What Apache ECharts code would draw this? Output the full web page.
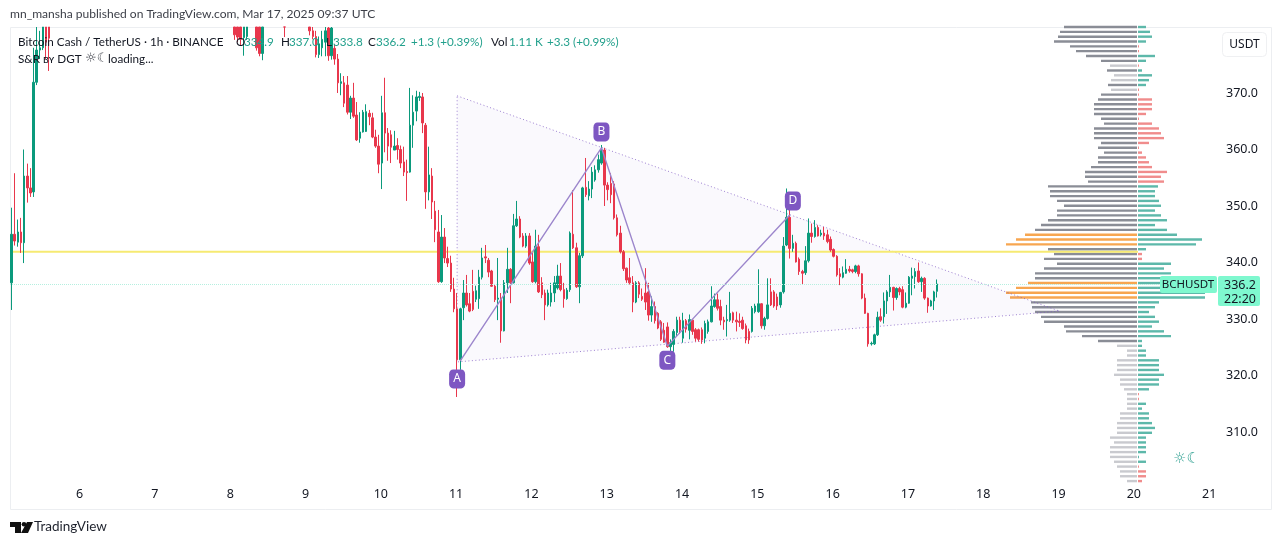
<!DOCTYPE html>
<html>
<head>
<meta charset="utf-8">
<title>BCHUSDT</title>
<script src="https://cdn.jsdelivr.net/npm/echarts@6/dist/echarts.min.js"></script>
<style>
html, body { margin: 0; padding: 0; background: #fff; }
#main { width: 1281px; height: 545px; }
</style>
</head>
<body>
<div id="main"></div>
<script>
// day labels of the time axis, one every 24 hourly candles
var dayLabels = ['6','7','8','9','10','11','12','13','14','15','16','17','18','19','20','21'];
var yTicks = [310,320,330,340,350,360,370];
var lastPrice = 336.2;
var keyLevel = 341.9;
var yMin = 301.33;
var yMax = 381.68;

// hourly candles [open, close, low, high], null = candle is above the visible range
var candles = [
[336.4,345,331.6,349.7],[345,343.8,343,355.8],[343.6,345.4,342.8,347.6],[345.4,343.5,341.7,347.9],
[343.5,355.3,339.9,360],[355.3,353.2,350.6,357.5],[353.2,352.3,351.6,356.7],[352.5,371.9,351.6,378],
[371.9,377.6,371.4,383],[377.6,378,376,381],[378,383,377.6,384],[383,379,376,384],[384,379.7,373.9,385],
null,null,null,null,null,null,null,null,null,null,null,null,null,null,null,null,null,null,null,null,null,null,null,null,null,null,null,null,null,null,null,null,null,null,null,null,null,null,null,null,null,null,null,null,null,null,null,null,null,null,null,null,null,null,null,null,null,null,
[384,380.3,379.4,385],[384,379.9,379,385],[384,379.5,378.5,385],[379.8,383,376.6,384],[380,383,379.4,384],
null,null,[384,378,377.5,385],[383,377,376.5,385],[377,383,375.8,384],
null,null,null,null,null,null,[384,383,379.9,386],null,null,null,null,null,null,null,
[383,381,380.2,385],[381,380,379.5,383],[380,376.8,376.3,381],[376.8,378.7,376.2,380],[378,379.5,376.5,381],
[379,381,376.5,382],[381.5,376.6,375.7,383],[376.6,381.5,375.9,383],[377.9,376,375,378.6],[376,371.8,370,376.9],
[371.7,372,369.6,373.5],[371.8,368.2,367.5,373],[371.4,366.6,366.2,373],[366.6,369.1,365.4,369.5],[369.1,365.9,365.6,371.8],
[366.1,361.7,361.5,368.4],[362,363.1,361.2,366.6],[363.1,366.6,363,367],[363.2,366.7,363.1,368],[366.4,365.8,364.3,367],
[365.6,362.2,362,366.5],[362.2,360.6,360.3,363.5],[360.6,357.4,355.8,362.6],[357.6,366.5,353,369.5],[366.5,362.9,359.5,372.7],
[362.9,360.6,358,363.8],[362.6,360.4,357.6,363.4],[359.9,360.6,359.9,363.3],[360.7,360,358.2,362],[360,357.6,356.7,360.7],
[357.8,356,355.3,360.5],[356.1,355.9,350.9,358.2],[356,364.3,355.9,370.9],[364.3,366.6,360.3,369.6],[366.8,369.3,365,370.4],
[369.2,369.4,368.6,370.2],[369.3,364.7,362.9,370],[364.3,352.5,349.5,364.7],[352.5,355.5,351,360.5],[355.3,350.7,347.7,356.7],
[349.1,345.8,343.6,350.9],[345.4,336.6,336.4,349.3],[336.6,344.5,336.4,348.4],[344.5,340.8,339.9,346.1],[340.7,339.9,339.2,342.8],
[339.9,335.3,334.8,341.2],[335.3,331.8,331.2,337.3],[331.8,322.8,316.2,334.6],[322.8,331.8,321,332],[332,334.6,329.8,336.9],
[334.6,332.5,332.2,337.8],[332.7,331.4,331.2,334.6],[334.9,331.7,331.4,338.7],[333.5,335,333,335.9],[333.6,337.4,331.8,338.7],
[337.4,340.8,337,342.6],[341,340.8,339.9,343.1],[340.4,338.3,337.4,340.8],[338.5,335.8,335.7,338.7],[335.8,333.4,333,336.2],
[333.5,333.7,329.8,340.8],[333.7,327.9,325.8,334.6],[327.9,336.4,327.8,336.9],[336.4,338.8,334.6,342.6],[338.8,336.4,332.8,339],
[336.4,346.5,336.3,348.6],[346.5,347.7,346.3,350.9],[347.7,344.5,344.3,348.2],[344.7,342.9,342.7,345.2],[342.9,344.7,342.6,345.2],
[344.7,339.9,339.6,345.2],[340.1,336.6,336.4,341.7],[336.6,342.9,336.3,345.8],[342.8,334.8,334.6,344.9],[336.4,334.3,333.7,337.4],
[334.6,332.5,329.8,335.2],[332.5,334.6,332.2,335.2],[333,334.6,332.2,336.4],[334.6,336.4,333,337.6],[335.5,337.6,335.2,339.6],
[337.6,335.2,334.9,339.9],[335.2,333.6,332,336.4],[333.6,335.1,333.4,335.5],[335.2,345.2,334.8,345.5],[345,342.6,342.4,352.8],
[342.6,335.7,335.5,343.5],[335.7,341.2,332.8,341.7],[341.2,353.2,340.8,353.4],[353.3,352,351.6,358.5],[351.8,353,351,354.4],
[353,356,351.4,356.9],[354.6,356.4,354.3,357.2],[356.4,358.2,355.9,359.1],[357.6,359.9,357.3,360.8],[359.9,353.7,350,360.3],
[353.7,352.9,351,354.2],[354,352,350.5,355.8],[353.9,347.9,347.6,354.4],[347.9,344.9,344.6,348.5],[345.2,341.9,341.6,346.5],
[341.9,338.9,338.5,342.2],[339,336.9,336.4,339.1],[337.3,336.4,336.1,340.8],[336.4,333,331.2,337.6],[333,336.4,332.8,336.7],
[336.4,334.4,333.7,336.7],[334,333.5,333.2,335.4],[334.6,333,331.6,339],[334.8,330.7,329.7,336.4],[330.7,332.2,329.5,334],
[332.2,329.7,329.2,333.1],[331,328.4,328.2,331.2],[329.5,326.4,326.1,329.8],[328,325.9,325.8,329.3],[328.6,325.1,324.9,329.4],
[325.1,325.8,324.2,326.4],[325.5,327.8,324.2,328.2],[327.6,329.8,327,330.4],[329.8,328,327.4,330.4],[326.6,329.7,325.8,331.1],
[329.7,328.2,327.6,330],[328,329.9,326.4,330.8],
[329.8,327.8,327.2,329.9],[328.1,326.6,326,328.4],[328.1,326.4,326,328.3],[328.1,326.3,325.6,328.5],[326.6,329.2,325.7,329.7],
[327.8,329.5,327.4,329.9],[329.5,332.3,329.4,335.8],[332.2,333.4,332,334.5],[333.4,331.9,331.5,334.5],[332.2,329.8,328.9,333.4],
[329.8,329.5,328.1,330.4],[329.7,329.9,326.9,332.5],[329.8,331,329.5,334.8],[331.1,329.8,329.3,331.3],[329.8,329.5,327.8,331.3],
[329.6,329.4,328.6,331],[329.8,328.3,328.1,330.4],[328.8,326.3,325.7,329.2],[327.8,326.3,325.6,328.3],[327.8,331.9,327.6,332.3],
[331.3,332.3,331,332.7],[331.3,332.7,331.1,338.8],[332.7,328.8,328.3,332.8],[328.8,330.1,328.1,330.4],[330.1,332.5,329.9,337.2],
[334.8,332.5,332.3,337.2],[334.8,332.3,332,335.1],[333.9,332.3,331.6,334.5],[332.5,334.7,332,334.8],[334.8,342.9,334.5,344.5],
[343.1,348,342.9,353.1],[348,342.5,340.7,349.3],[342.5,343.4,341.9,344.9],[343.4,340.1,340,343.7],[340.6,338.4,337.8,340.9],
[338.4,338.1,336.2,338.7],[338.2,340.3,337.8,342.9],[340.3,345.2,340,347.8],[345.2,344.6,343.5,346.9],[344.6,346.2,344.4,347.5],
[346.2,344.7,344.6,346.6],[344.9,345.2,344.6,345.8],[345.2,344.7,344,346.3],[344.9,343.7,343.4,345.8],[344.1,342.2,341.9,344.6],
[342.3,341.1,340.9,342.5],[341.1,337.8,337.5,341.3],[338,337.5,336,339],[337.4,338.2,337.2,339.3],[338.1,338.8,338,340.6],
[338.8,338.5,338.2,339.4],[338.7,338.4,338.1,338.9],[338.4,339.4,338.1,339.6],[339.4,338,337.5,339.6],[338,333.7,333.5,338.1],
[333.7,331,330.9,334.5],[331,325.6,325.1,331.1],[325.6,325.7,325.3,326],[325.6,327.2,325.4,327.4],[327.2,330.3,327,331.3],
[330.4,329.8,329.5,331.9],[330.4,333.2,329.2,334.7],[333.2,334.8,330.9,335.1],[334.8,335.6,333.9,337.8],[335.6,333.8,331.5,335.7],
[333.8,335.4,333.4,335.6],[335.4,334.8,334.2,335.7],[335.2,332.1,331.9,335.8],[332.1,332.8,331.9,334.7],[332.8,337.4,332.7,337.6],
[337.2,337.6,334.2,339.1],[337.5,338.4,335.4,339],[338.5,336.6,336.4,340],[336.6,337.2,334.8,337.5],[337.2,333.7,333.4,337.4],
[333.7,332.3,331.1,333.8],[332.3,333.2,332.2,333.4],[333.2,334.8,331.6,335],[334.9,336.2,333.8,337]
];

// triangle pattern corners [hour index, price]
var triangleIdx = [142, 334, 142];
var trianglePrice = [369.5, 331.4, 322.4];

// A-B-C-D swing
var swingIdx = [143, 188, 209, 248];
var swingPrice = [322.6, 360.3, 325.2, 348.4];
var swingNames = ['A', 'B', 'C', 'D'];
var swingLabelIdx = [142, 188, 209, 249];
var swingLabelPrice = [319.4, 363.1, 322.7, 350.9];

// volume profile rows, top to bottom
var profilePrices = [381.7,380.8,380.0,379.1,378.3,377.4,376.6,375.7,374.9,374.0,373.2,372.3,371.4,370.6,369.7,368.9,368.0,367.2,366.3,365.5,364.6,363.7,362.9,362.0,361.2,360.3,359.5,358.6,357.8,356.9,356.1,355.2,354.3,353.5,352.6,351.8,350.9,350.1,349.2,348.4,347.5,346.6,345.8,344.9,344.1,343.2,342.4,341.5,340.7,339.8,339.0,338.1,337.2,336.4,335.5,334.7,333.8,333.0,332.1,331.3,330.4,329.5,328.7,327.8,327.0,326.1,325.3,324.4,323.6,322.7,321.9,321.0,320.1,319.3,318.4,317.6,316.7,315.9,315.0,314.2,313.3,312.4,311.6,310.7,309.9,309.0,308.2,307.3,306.5,305.6,304.7,303.9,303.0,302.2,301.3];
var profileTotal = [73,77,79,83,67,61,51,36,27,30,23,26,29,26,36,39,43,43,43,36,33,43,43,43,36,39,33,39,39,46,52,52,49,89,87,87,80,73,80,80,89,96,102,112,121,131,89,83,93,80,93,102,102,109,121,131,127,106,105,102,96,93,73,71,55,39,20,10,10,20,20,20,23,17,17,13,10,10,10,10,17,17,20,20,20,27,23,27,27,27,23,20,17,17,10];
var profileDelta = [8,12,14,8,1,1,17,8,1,4,14,11,8,1,1,14,14,14,8,1,14,21,23,26,11,1,4,8,11,14,29,23,26,20,17,17,21,23,17,23,29,17,29,39,64,58,8,4,4,33,26,33,29,22,22,67,67,21,17,11,17,21,14,26,33,4,4,8,8,21,21,21,26,21,21,11,1,1,8,4,11,11,14,17,14,8,8,8,8,1,8,1,8,8,4];
var profileSellRows = [4,5,8,13,14,15,16,17,18,19,20,21,22,23,24,25,26,27,28,29,30,31,32,47,48,76,77,91,92,93,94];

var HOURS = 385;
var hourLabels = [];
for (var h = 0; h < HOURS; h++) hourLabels.push('');
dayLabels.forEach(function (d, k) { hourLabels[22 + k * 24] = d; });

var myChart = echarts.init(document.getElementById('main'));

var uiFont = 'Lato, "DejaVu Sans", sans-serif';
var axisFont = '"Noto Sans", sans-serif';
var ink = '#131722';
var upCol = '#0b9a7c';
var downCol = '#e8374c';
var tealTxt = '#22a08c';
var purple = '#7e57c2';

function txt(x, y, s, fill, size, align, font) {
	return {
		type: 'text', z: 20, silent: true,
		style: { x: x, y: y, text: s, fill: fill || ink, font: (size || 11.7) + 'px ' + (font || uiFont), textAlign: align || 'left', textVerticalAlign: 'middle' }
	};
}

var option = {
	animation: false,
	backgroundColor: '#fff',
	grid: [
		{ left: 10, top: 27, width: 1208, height: 454 },
		{ left: 997, top: 24.6, width: 140, height: 458.9 },
		{ left: 1138, top: 24.6, width: 100, height: 458.9 }
	],
	xAxis: [
		{
			type: 'category', gridIndex: 0, data: hourLabels,
			axisLine: { show: false }, axisTick: { show: false }, splitLine: { show: false },
			axisLabel: {
				color: ink, fontSize: 12.5, fontFamily: axisFont, margin: 7, padding: [0, 2, 0, 0],
				interval: function (i) { return hourLabels[i] !== ''; }
			}
		},
		{ type: 'value', gridIndex: 1, inverse: true, min: 0, max: 140, show: false },
		{ type: 'value', gridIndex: 2, min: 0, max: 100, show: false }
	],
	yAxis: [
		{
			type: 'value', gridIndex: 0, position: 'right', min: yMin, max: yMax, scale: true,
			axisLine: { show: false }, splitLine: { show: false },
			axisTick: { show: false, customValues: yTicks },
			axisLabel: {
				customValues: yTicks, color: ink, fontSize: 12.5, fontFamily: axisFont, margin: 8,
				formatter: function (v) { return v.toFixed(1); }
			}
		},
		{ type: 'category', gridIndex: 1, inverse: true, data: profilePrices, show: false },
		{ type: 'category', gridIndex: 2, inverse: true, data: profilePrices, show: false }
	],
	series: [
		{
			name: 'profile total', type: 'bar', xAxisIndex: 1, yAxisIndex: 1, z: 1, barWidth: 2.4,
			data: profileTotal.map(function (v) {
				var c = v >= 108 ? '#f7a650' : (v < 28.5 ? '#c9cacf' : '#8a8d96');
				return { value: v, itemStyle: { color: c } };
			})
		},
		{
			name: 'profile delta', type: 'bar', xAxisIndex: 2, yAxisIndex: 2, z: 1, barWidth: 2.4,
			data: profileDelta.map(function (v, i) {
				var c = profileSellRows.indexOf(i) >= 0 ? '#f08c8c' : '#5db8aa';
				return { value: v, itemStyle: { color: c } };
			})
		},
		{
			name: 'triangle', type: 'custom', xAxisIndex: 0, yAxisIndex: 0, z: 2, silent: true,
			data: triangleIdx.map(function (x, i) { return [x, trianglePrice[i]]; }),
			renderItem: function (params, api) {
				if (params.dataIndex !== 0) return null;
				var pts = triangleIdx.map(function (x, i) { return api.coord([x, trianglePrice[i]]); });
				return {
					type: 'polygon', shape: { points: pts },
					style: { fill: 'rgba(126,87,194,0.035)', stroke: 'rgba(126,87,194,0.75)', lineWidth: 1, lineDash: [1, 2.5] }
				};
			}
		},
		{
			name: 'level', type: 'line', xAxisIndex: 0, yAxisIndex: 0, z: 2, silent: true, showSymbol: false,
			data: [[0, keyLevel], [359, keyLevel]],
			lineStyle: { color: '#f6ea72', width: 2.2 }
		},
		{
			name: 'BCHUSDT', type: 'candlestick', xAxisIndex: 0, yAxisIndex: 0, z: 3, barWidth: 2,
			// candles running past the top of the pane are cut at the axis maximum
			data: candles.map(function (r) {
				if (!r) return ['-', '-', '-', '-'];
				return r.map(function (v) { return Math.min(v, yMax); });
			}),
			itemStyle: { color: upCol, color0: downCol, borderColor: upCol, borderColor0: downCol, borderWidth: 1 },
			markLine: {
				silent: true, symbol: 'none', label: { show: false },
				lineStyle: { color: '#b5efdf', type: 'dotted', width: 1 },
				data: [{ yAxis: lastPrice }]
			}
		},
		{
			name: 'swing', type: 'line', xAxisIndex: 0, yAxisIndex: 0, z: 4, silent: true, showSymbol: false,
			data: swingIdx.map(function (x, i) { return [x, swingPrice[i]]; }),
			lineStyle: { color: '#9c86cc', width: 1.4 }
		},
		{
			name: 'swing labels', type: 'scatter', xAxisIndex: 0, yAxisIndex: 0, z: 5, silent: true,
			symbol: 'roundRect', symbolSize: [16, 19],
			itemStyle: { color: purple, opacity: 1 },
			label: { show: true, position: 'inside', color: '#fff', fontSize: 12, fontFamily: axisFont, formatter: '{b}' },
			data: swingNames.map(function (n, i) { return { name: n, value: [swingLabelIdx[i], swingLabelPrice[i]] }; })
		}
	],
	graphic: { elements: [
		{ type: 'rect', z: 0, silent: true, shape: { x: 10.5, y: 27.5, width: 1261, height: 482 }, style: { fill: 'none', stroke: '#eceef1', lineWidth: 1 } },
		{ type: 'rect', z: 19, silent: true, shape: { x: 1222.5, y: 32.5, width: 44, height: 24, r: 4 }, style: { fill: '#fff', stroke: '#eff0f2', lineWidth: 1 } },
		txt(1244.5, 45, 'USDT', ink, 12, 'center', axisFont),
		{ type: 'rect', z: 19, silent: true, shape: { x: 1160, y: 276, width: 57, height: 17, r: 2 }, style: { fill: '#7ff8cf' } },
		{ type: 'rect', z: 19, silent: true, shape: { x: 1218, y: 276, width: 42, height: 30, r: 2 }, style: { fill: '#7ff8cf' } },
		txt(1188, 285, 'BCHUSDT', ink, 11.5, 'center', axisFont),
		txt(1240, 285, '336.2', ink, 12.5, 'center', axisFont),
		txt(1240, 299, '22:20', ink, 12.5, 'center', axisFont),
		txt(1173, 459, '☼☾', '#3aa597', 15, 'left', '"DejaVu Sans"'),
		txt(10, 14, 'mn_mansha published on TradingView.com, Mar 17, 2025 09:37 UTC', '#3c3f48', 12.05),
		txt(18, 42, 'Bitcoin Cash / TetherUS · 1h · BINANCE'),
		txt(236, 42, 'O'), txt(244, 42, '334.9', tealTxt),
		txt(281, 42, 'H'), txt(289, 42, '337.0', tealTxt),
		txt(326, 42, 'L'), txt(333, 42, '333.8', tealTxt),
		txt(368, 42, 'C'), txt(376, 42, '336.2', tealTxt),
		txt(411, 42, '+1.3 (+0.39%)', tealTxt),
		txt(491, 42, 'Vol'), txt(509, 42, '1.11 K', tealTxt),
		txt(547, 42, '+3.3 (+0.99%)', tealTxt),
		txt(18, 59, 'S&R ʙʏ DGT', ink),
		txt(85, 59, '☼☾', '#3c3f48', 13, 'left', '"DejaVu Sans"'),
		txt(108, 59, 'loading...', ink),
		// TradingView mark
		{ type: 'polygon', z: 20, silent: true, shape: { points: [[10,522],[21,522],[21,533],[15,533],[15,527],[10,527]] }, style: { fill: '#111' } },
		{ type: 'circle', z: 20, silent: true, shape: { cx: 24, cy: 524.3, r: 2.3 }, style: { fill: '#111' } },
		{ type: 'polygon', z: 20, silent: true, shape: { points: [[27,522],[33,522],[28,533],[21,533]] }, style: { fill: '#111' } },
		txt(34, 527, 'TradingView', '#1e222d', 13.5)
	] }
};

myChart.setOption(option);
</script>
</body>
</html>
